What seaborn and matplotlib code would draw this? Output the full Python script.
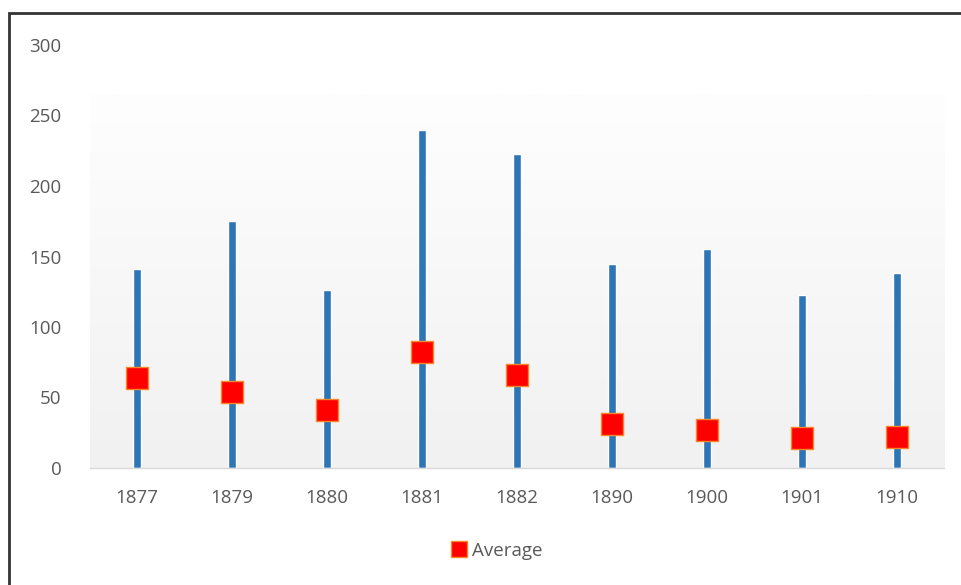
import numpy as np
import pandas as pd
import matplotlib
matplotlib.use("Agg")
import matplotlib.pyplot as plt
import seaborn as sns
from matplotlib.lines import Line2D
from matplotlib.patches import Rectangle
from matplotlib.colors import LinearSegmentedColormap

years = ["1877", "1879", "1880", "1881", "1882", "1890", "1900", "1901", "1910"]
max_values = [141, 175, 126, 240, 223, 145, 155, 123, 138]
average_values = [64, 54, 41, 82, 66, 31, 27, 21, 22]
y_ticks = [0, 50, 100, 150, 200, 250, 300]

df = pd.DataFrame({"year": years, "max": max_values, "avg": average_values})

sns.set_theme(style="white")
plt.rcParams["font.family"] = ["Open Sans", "DejaVu Sans"]

fig = plt.figure(figsize=(9.62, 5.85), dpi=100)
fig.patch.set_facecolor("white")
ax = fig.add_axes([89.5 / 962, 1 - 468 / 585, (944.5 - 89.5) / 962, (468 - 45) / 585])

# background gradient
grad = np.linspace(0, 1, 256).reshape(-1, 1)
cmap = LinearSegmentedColormap.from_list("g", ["#f1f1f1", "#fefefe"])
ax.imshow(grad, aspect="auto", cmap=cmap, origin="lower",
          extent=(-0.5, len(years) - 0.5, 0, 265), zorder=0)

sns.barplot(data=df, x="year", y="max", color="#2e75b6", width=0.075,
            saturation=1, ax=ax, zorder=2)
sns.scatterplot(data=df, x="year", y="avg", marker="s", s=230, color="#ff0000",
                edgecolor="#f5862a", linewidth=1.0, ax=ax, zorder=3)

ax.set_xlim(-0.5, len(years) - 0.5)
ax.set_ylim(0, 300)
ax.set_yticks(y_ticks)
ax.set_yticklabels([str(v) for v in y_ticks])
ax.set_xlabel("")
ax.set_ylabel("")
ax.tick_params(axis="both", length=0, labelsize=13.5, colors="#595959")
ax.tick_params(axis="x", pad=15)
ax.tick_params(axis="y", pad=20)
ax.set_facecolor("white")
for s in ["top", "right", "left"]:
    ax.spines[s].set_visible(False)
ax.spines["bottom"].set_color("#d9d9d9")
ax.spines["bottom"].set_linewidth(1.0)
ax.grid(False)

handle = Line2D([], [], marker="s", linestyle="none", markersize=11,
                markerfacecolor="#ff0000", markeredgecolor="#f5862a", markeredgewidth=1)
fig.legend([handle], ["Average"], loc="center", bbox_to_anchor=(496 / 962, 1 - 551 / 585),
           frameon=False, fontsize=13.5, labelcolor="#595959", handletextpad=0.2,
           handlelength=1.0)

# figure border (left and top visible)
fig.patches.append(Rectangle((9 / 962, -0.1), 1.2, 1 - 13 / 585 + 0.1,
                             transform=fig.transFigure, fill=False,
                             edgecolor="#333333", linewidth=2, zorder=10))

fig.savefig("out.png", dpi=100)
